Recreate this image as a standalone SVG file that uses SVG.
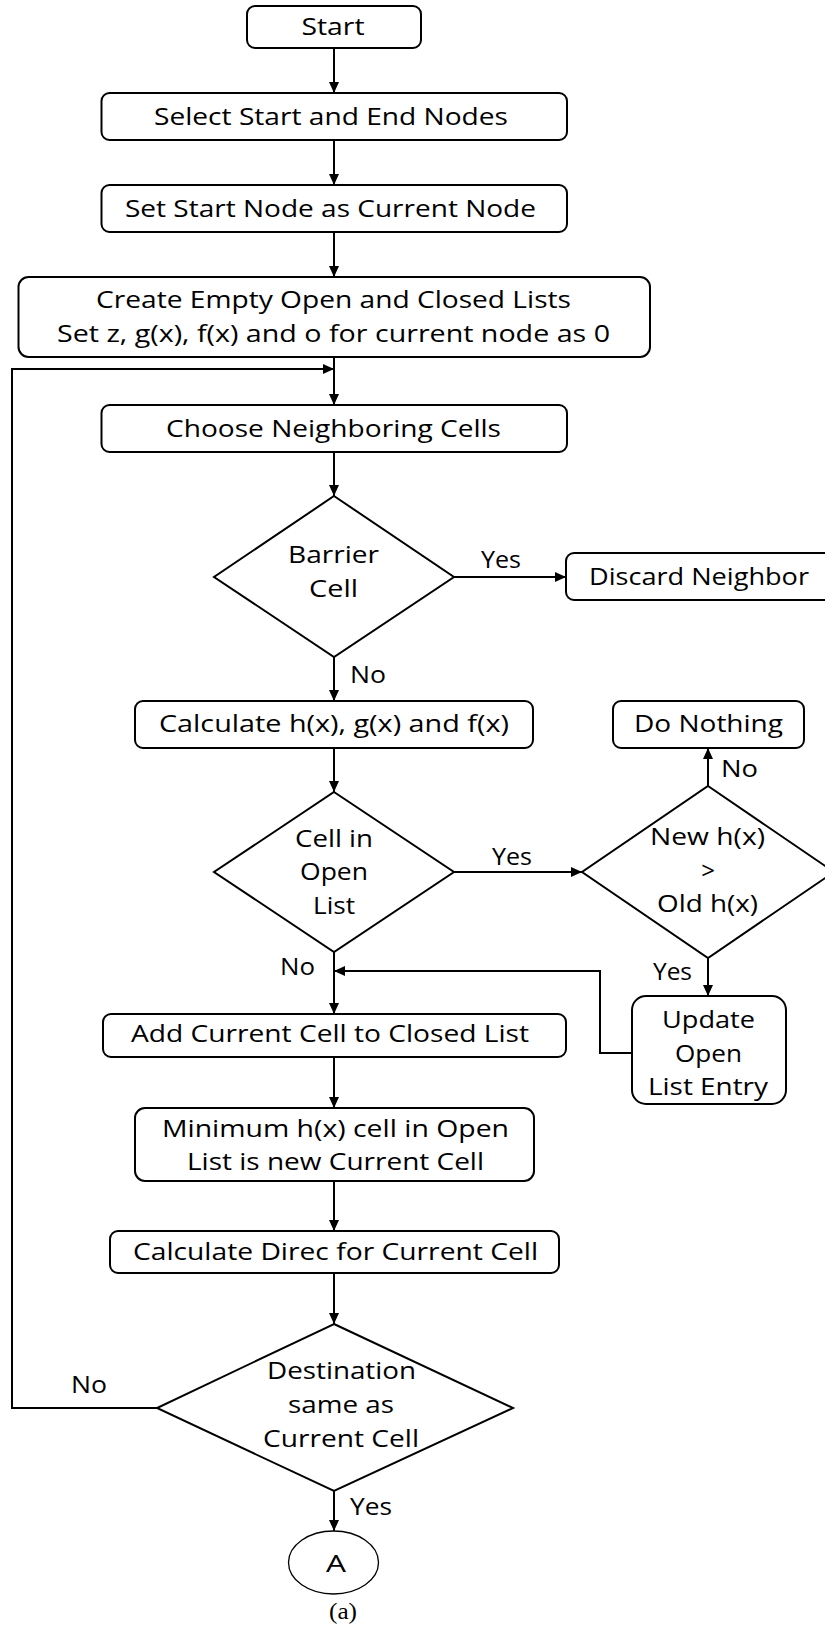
<svg xmlns="http://www.w3.org/2000/svg" width="825" height="1627" viewBox="0 0 825 1627">
<style>
.box{fill:#fff;stroke:#000;stroke-width:2}
.dia{fill:#fff;stroke:#000;stroke-width:2}
.t{font-family:"Open Sans","Noto Sans","DejaVu Sans",sans-serif;font-size:24px;fill:#000;text-anchor:middle}
.l{font-family:"Open Sans","Noto Sans","DejaVu Sans",sans-serif;font-size:24px;fill:#000}
.c{fill:none;stroke:#000;stroke-width:2}
</style>
<defs>
<marker id="ah" markerUnits="userSpaceOnUse" markerWidth="12" markerHeight="10" refX="11" refY="5" orient="auto">
<path d="M0,0 L11,5 L0,10 z" fill="#000"/>
</marker>
</defs>
<rect width="825" height="1627" fill="#fff"/>
<g id="connectors">
<path class="c" d="M334 48 L334 93" marker-end="url(#ah)"/>
<path class="c" d="M334 140 L334 185" marker-end="url(#ah)"/>
<path class="c" d="M334 232 L334 277" marker-end="url(#ah)"/>
<path class="c" d="M334 357 L334 405" marker-end="url(#ah)"/>
<path class="c" d="M334 452 L334 496" marker-end="url(#ah)"/>
<path class="c" d="M454 577 L566 577" marker-end="url(#ah)"/>
<path class="c" d="M334 657 L334 701" marker-end="url(#ah)"/>
<path class="c" d="M334 748 L334 792" marker-end="url(#ah)"/>
<path class="c" d="M454 872 L582 872" marker-end="url(#ah)"/>
<path class="c" d="M708 786 L708 748" marker-end="url(#ah)"/>
<path class="c" d="M708 958 L708 996" marker-end="url(#ah)"/>
<path class="c" d="M632 1053 L600 1053 L600 971 L334 971" marker-end="url(#ah)"/>
<path class="c" d="M334 952 L334 1014" marker-end="url(#ah)"/>
<path class="c" d="M334 1057 L334 1108" marker-end="url(#ah)"/>
<path class="c" d="M334 1181 L334 1231" marker-end="url(#ah)"/>
<path class="c" d="M334 1273 L334 1324" marker-end="url(#ah)"/>
<path class="c" d="M334 1491 L334 1531" marker-end="url(#ah)"/>
<path class="c" d="M157 1408 L12 1408 L12 369 L334 369" marker-end="url(#ah)"/>
<text class="l" x="481" y="568" textLength="40" lengthAdjust="spacingAndGlyphs">Yes</text>
<text class="l" x="350" y="683" textLength="36" lengthAdjust="spacingAndGlyphs">No</text>
<text class="l" x="721" y="777" textLength="37" lengthAdjust="spacingAndGlyphs">No</text>
<text class="l" x="492" y="865" textLength="40" lengthAdjust="spacingAndGlyphs">Yes</text>
<text class="l" x="280" y="975" textLength="35" lengthAdjust="spacingAndGlyphs">No</text>
<text class="l" x="653" y="980" textLength="39" lengthAdjust="spacingAndGlyphs">Yes</text>
<text class="l" x="71" y="1393" textLength="36" lengthAdjust="spacingAndGlyphs">No</text>
<text class="l" x="350" y="1515" textLength="42" lengthAdjust="spacingAndGlyphs">Yes</text>
</g>
<g id="start">
<rect class="box" x="247" y="6" width="174" height="42" rx="8"/>
<text class="t" x="333" y="35" textLength="63" lengthAdjust="spacingAndGlyphs">Start</text>
</g>
<g id="select">
<rect class="box" x="101.5" y="93" width="465.5" height="47" rx="8"/>
<text class="t" x="331" y="125" textLength="354" lengthAdjust="spacingAndGlyphs">Select Start and End Nodes</text>
</g>
<g id="setstart">
<rect class="box" x="101.5" y="185" width="465.5" height="47" rx="8"/>
<text class="t" x="330.5" y="217" textLength="411" lengthAdjust="spacingAndGlyphs">Set Start Node as Current Node</text>
</g>
<g id="create">
<rect class="box" x="18.5" y="277" width="631.5" height="80" rx="10"/>
<text class="t" x="333.5" y="308" textLength="475" lengthAdjust="spacingAndGlyphs">Create Empty Open and Closed Lists</text>
<text class="t" x="333.5" y="342" textLength="553" lengthAdjust="spacingAndGlyphs">Set z, g(x), f(x) and o for current node as 0</text>
</g>
<g id="choose">
<rect class="box" x="101.5" y="405" width="465.5" height="47" rx="8"/>
<text class="t" x="333.5" y="437" textLength="335" lengthAdjust="spacingAndGlyphs">Choose Neighboring Cells</text>
</g>
<g id="barrier">
<path class="dia" d="M334 496 L454 577 L334 657 L214 577 Z"/>
<text class="t" x="333.5" y="563" textLength="91" lengthAdjust="spacingAndGlyphs">Barrier</text>
<text class="t" x="333.5" y="597" textLength="49" lengthAdjust="spacingAndGlyphs">Cell</text>
</g>
<g id="discard">
<rect class="box" x="566" y="553" width="270" height="47" rx="8"/>
<text class="t" x="699" y="585" textLength="220" lengthAdjust="spacingAndGlyphs">Discard Neighbor</text>
</g>
<g id="calculate">
<rect class="box" x="135" y="701" width="398" height="47" rx="8"/>
<text class="t" x="334" y="732" textLength="350" lengthAdjust="spacingAndGlyphs">Calculate h(x), g(x) and f(x)</text>
</g>
<g id="donothing">
<rect class="box" x="613" y="701" width="191" height="47" rx="8"/>
<text class="t" x="708.5" y="732" textLength="149" lengthAdjust="spacingAndGlyphs">Do Nothing</text>
</g>
<g id="cellin">
<path class="dia" d="M334 792 L454 872 L334 952 L214 872 Z"/>
<text class="t" x="334" y="847" textLength="78" lengthAdjust="spacingAndGlyphs">Cell in</text>
<text class="t" x="334" y="880" textLength="68" lengthAdjust="spacingAndGlyphs">Open</text>
<text class="t" x="334" y="914" textLength="42" lengthAdjust="spacingAndGlyphs">List</text>
</g>
<g id="newh">
<path class="dia" d="M708 786 L834 872 L708 958 L582 872 Z"/>
<text class="t" x="707.5" y="845" textLength="115" lengthAdjust="spacingAndGlyphs">New h(x)</text>
<text class="t" x="708" y="879">&gt;</text>
<text class="t" x="707.5" y="912" textLength="101" lengthAdjust="spacingAndGlyphs">Old h(x)</text>
</g>
<g id="update">
<rect class="box" x="632" y="996" width="154" height="108" rx="14"/>
<text class="t" x="708.5" y="1028" textLength="93" lengthAdjust="spacingAndGlyphs">Update</text>
<text class="t" x="708.5" y="1062" textLength="67" lengthAdjust="spacingAndGlyphs">Open</text>
<text class="t" x="708" y="1095" textLength="120" lengthAdjust="spacingAndGlyphs">List Entry</text>
</g>
<g id="add">
<rect class="box" x="103" y="1014" width="463" height="43" rx="8"/>
<text class="t" x="330" y="1042" textLength="398" lengthAdjust="spacingAndGlyphs">Add Current Cell to Closed List</text>
</g>
<g id="minimum">
<rect class="box" x="135" y="1108" width="399" height="73" rx="10"/>
<text class="t" x="335.5" y="1137" textLength="347" lengthAdjust="spacingAndGlyphs">Minimum h(x) cell in Open</text>
<text class="t" x="335.5" y="1170" textLength="297" lengthAdjust="spacingAndGlyphs">List is new Current Cell</text>
</g>
<g id="calcdirec">
<rect class="box" x="110" y="1231" width="449" height="42" rx="8"/>
<text class="t" x="335.5" y="1260" textLength="405" lengthAdjust="spacingAndGlyphs">Calculate Direc for Current Cell</text>
</g>
<g id="destination">
<path class="dia" d="M334 1324 L513 1408 L334 1491 L157 1408 Z"/>
<text class="t" x="341.5" y="1379" textLength="149" lengthAdjust="spacingAndGlyphs">Destination</text>
<text class="t" x="341" y="1413" textLength="106" lengthAdjust="spacingAndGlyphs">same as</text>
<text class="t" x="341" y="1447" textLength="156" lengthAdjust="spacingAndGlyphs">Current Cell</text>
</g>
<g id="connectorA">
<ellipse cx="333.5" cy="1562.5" rx="45" ry="31.5" fill="#fff" stroke="#000" stroke-width="1.3"/>
<text class="t" x="336" y="1572" textLength="20" lengthAdjust="spacingAndGlyphs">A</text>
</g>
<text x="343" y="1619" font-family="'Liberation Serif','Times New Roman',serif" font-size="23" text-anchor="middle" textLength="28" lengthAdjust="spacingAndGlyphs">(a)</text>
</svg>
